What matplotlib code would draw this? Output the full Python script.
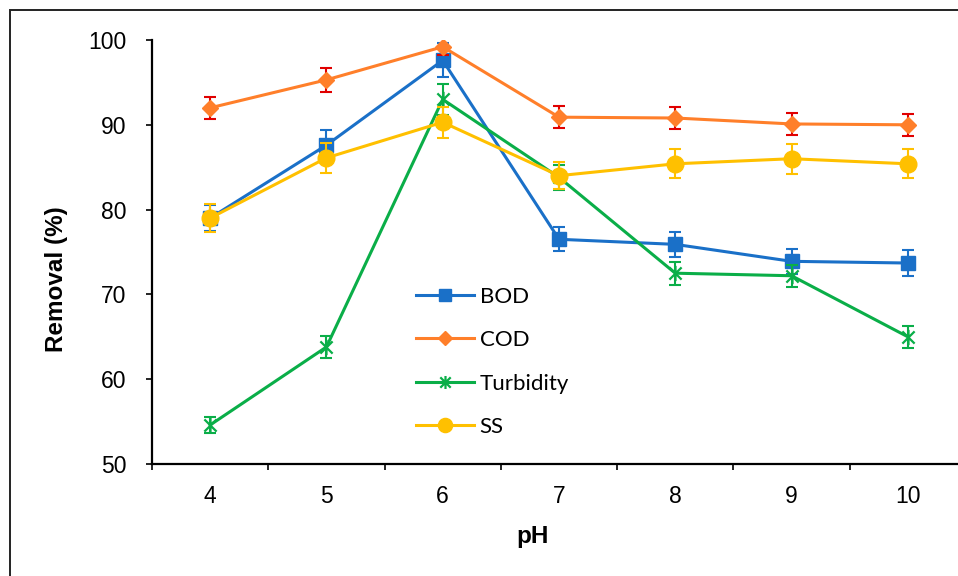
import matplotlib
matplotlib.use("Agg")
import matplotlib.pyplot as plt
from matplotlib.patches import Rectangle
from matplotlib.path import Path

# ---- data -----------------------------------------------------------------------------
ph = [4, 5, 6, 7, 8, 9, 10]

bod      = [79.0, 87.6, 97.6, 76.5, 75.9, 73.9, 73.7]
bod_err  = [1.5, 1.8, 2.0, 1.4, 1.5, 1.5, 1.5]
cod      = [92.0, 95.3, 99.2, 90.9, 90.8, 90.1, 90.0]
cod_err  = [1.3, 1.4, 1.0, 1.3, 1.3, 1.3, 1.3]
turb     = [54.6, 63.8, 93.0, 83.8, 72.5, 72.2, 65.0]
turb_err = [1.0, 1.3, 1.8, 1.5, 1.35, 1.3, 1.3]
ss       = [79.0, 86.1, 90.3, 84.0, 85.4, 86.0, 85.4]
ss_err   = [1.65, 1.8, 1.8, 1.6, 1.7, 1.75, 1.7]

# ---- style ----------------------------------------------------------------------------
C_BOD, C_COD, C_TURB, C_SS = "#1A70C8", "#FF7F2A", "#0AAE48", "#FFC000"
C_COD_ERR = "#E00000"

# Excel-like "star" marker: an X with a vertical stroke
star = Path([(0, -1), (0, 1), (-0.8, -0.8), (0.8, 0.8), (-0.8, 0.8), (0.8, -0.8)],
            [Path.MOVETO, Path.LINETO] * 3)

plt.rcParams["font.family"] = ["Liberation Sans", "DejaVu Sans"]
fig = plt.figure(figsize=(9.58, 5.76), dpi=100)
ax = fig.add_axes([152 / 958, 1 - 464 / 576, 814 / 958, 424 / 576])

series = [
    ("BOD", bod, bod_err, C_BOD, C_BOD, "s", 10, {}),
    ("COD", cod, cod_err, C_COD, C_COD_ERR, "D", 8.5, {}),
    ("Turbidity", turb, turb_err, C_TURB, C_TURB, star, 11, {"markeredgewidth": 1.6}),
    ("SS", ss, ss_err, C_SS, C_SS, "o", 12, {}),
]
handles = []
for name, y, e, col, ecol, mk, ms, kw in series:
    ax.errorbar(ph, y, yerr=e, fmt="none", ecolor=ecol, elinewidth=1.5, capsize=4,
                capthick=1.5)
    h, = ax.plot(ph, y, color=col, lw=2.2, marker=mk, ms=ms, mfc=col, mec=col,
                 label=name, **kw)
    handles.append(h)

ax.set_xlim(3.5, 10.5)
ax.set_ylim(50, 100)
ax.set_yticks(range(50, 101, 10))
ax.set_xticks(ph)
ax.set_xticks([p - 0.5 for p in ph] + [10.5], minor=True)
ax.tick_params(axis="x", which="major", length=0, pad=15, labelsize=16.5)
ax.tick_params(axis="x", which="minor", length=4.5, width=1.2, direction="out")
ax.tick_params(axis="y", length=4.5, width=1.2, pad=14, labelsize=16.5)
for s in ("top", "right"):
    ax.spines[s].set_visible(False)
for s in ("left", "bottom"):
    ax.spines[s].set_linewidth(1.6)

ax.set_ylabel("Removal (%)", fontsize=17.5, fontweight="bold")
ax.yaxis.set_label_coords(-0.103, 0.436)
ax.set_xlabel("pH", fontsize=17.5, fontweight="bold")
ax.xaxis.set_label_coords(0.468, -0.145)

ax.legend(handles=handles, loc="upper left", bbox_to_anchor=(0.30, 0.465),
          frameon=False, prop={"family": "Lato", "size": 16}, handlelength=2.6,
          labelspacing=1.05, handletextpad=0.25, markerscale=0.85)

# outer frame around the chart area (cropped at right and bottom)
fig.patches.append(Rectangle((10 / 958, -0.1), 2, 1 - 10 / 576 + 0.1, transform=fig.transFigure,
                             fill=False, lw=1.4, ec="#222222"))

fig.savefig("out.png", dpi=100)
